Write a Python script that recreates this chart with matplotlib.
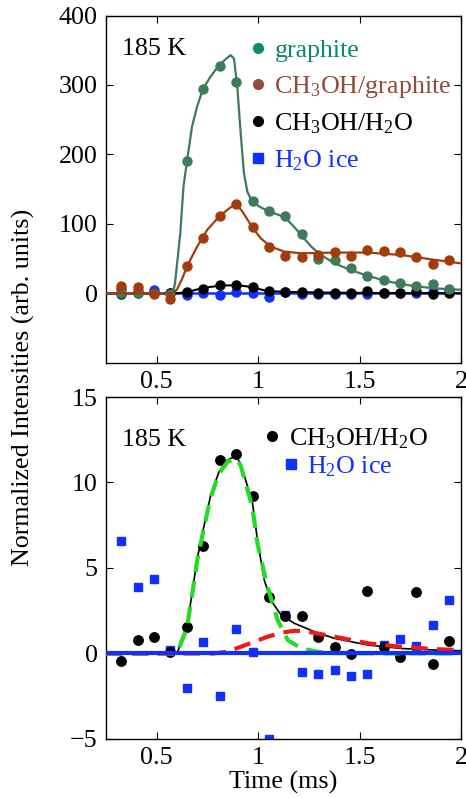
import matplotlib
matplotlib.use("Agg")
import matplotlib.pyplot as plt
from matplotlib.lines import Line2D

plt.rcParams['font.family'] = ['Liberation Serif', 'DejaVu Serif']
plt.rcParams['mathtext.fontset'] = 'custom'
plt.rcParams['mathtext.rm'] = 'Liberation Serif'
plt.rcParams['mathtext.it'] = 'Liberation Serif:italic'

# ---------------- data ----------------
t = [0.326, 0.409, 0.487, 0.566, 0.649, 0.728, 0.810, 0.892, 0.973, 1.055, 1.134,
     1.214, 1.296, 1.377, 1.457, 1.538, 1.618, 1.700, 1.780, 1.861, 1.942]

graphite = [1, 1, 0, -1, 190, 294, 328, 305, 133, 119, 112, 85, 49, 48, 37, 25,
            19, 15, 10, 13, 6]
ch3oh_graphite = [10.6, 8.6, -1.4, -8, 39, 79, 112, 128, 95, 67, 53, 52, 55, 60,
                  54, 63, 61, 60, 52, 42, 48]
ch3oh_h2o = [-0.43, 0.78, 0.98, 0.1, 1.56, 6.29, 11.33, 11.64, 9.22, 3.32, 2.2,
             2.2, 0.98, 0.39, -0.06, 3.65, 0.4, -0.2, 3.57, -0.63, 0.7]
h2o_ice = [6.58, 3.9, 4.34, 0.23, -2.03, 0.68, -2.48, 1.43, 0.08, -5.0, 2.25,
           -1.09, -1.21, -0.98, -1.29, -1.19, 0.49, 0.82, 0.45, 1.68, 3.14]

# fitted curves
fit_g_t = [0.25, 0.58, 0.59, 0.616, 0.632, 0.649, 0.674, 0.699, 0.728, 0.765, 0.806,
           0.839, 0.864, 0.881, 0.897, 0.914, 0.930, 0.947, 0.969, 1.005, 1.051,
           1.129, 1.17, 1.209, 1.262, 1.311, 1.377, 1.46, 1.543, 1.626, 1.709,
           1.79, 1.874, 2.0]
fit_g_y = [0, 0, 14, 86, 154, 190, 240, 269, 294, 312, 328, 337, 343, 338, 298,
           230, 173, 146, 133, 125, 118, 110, 98, 85, 67, 55, 43, 33, 25, 18, 13,
           9.6, 7, 5]

fit_b_t = [0.25, 0.575, 0.599, 0.624, 0.649, 0.674, 0.699, 0.748, 0.806, 0.856,
           0.889, 0.922, 0.969, 1.013, 1.063, 1.129, 1.212, 1.377, 1.543, 1.709,
           1.874, 2.0]
fit_b_y = [0, 0, 5, 20, 38, 53, 67, 91, 110, 122, 129, 118, 96, 79, 67, 60, 57.6,
           58.6, 58.6, 55, 48, 43]

fit_tot_t = [0.25, 0.60, 0.624, 0.649, 0.674, 0.699, 0.732, 0.765, 0.806, 0.848,
             0.889, 0.914, 0.947, 0.972, 0.997, 1.03, 1.063, 1.113, 1.179, 1.278,
             1.377, 1.543, 1.709, 1.874, 2.0]
fit_tot_y = [0, 0, 0.78, 1.56, 3.5, 5.5, 7.4, 9.2, 10.6, 11.3, 11.56, 11.1, 9.8,
             8.8, 6.6, 4.3, 3.1, 2.25, 1.76, 1.27, 0.88, 0.49, 0.29, 0.2, 0.16]

fit_fast_t = [0.25, 0.60, 0.624, 0.649, 0.674, 0.699, 0.732, 0.765, 0.806, 0.848,
              0.889, 0.914, 0.947, 0.972, 0.997, 1.046, 1.096, 1.146, 1.212, 1.295,
              1.377, 1.6, 2.0]
fit_fast_y = [0, 0, 0.75, 1.5, 3.4, 5.4, 7.3, 9.1, 10.5, 11.2, 11.4, 11.0, 9.6,
              8.5, 6.4, 3.9, 1.95, 0.78, 0.3, 0.1, 0.02, 0, 0]

fit_slow_t = [0.25, 0.78, 0.848, 0.914, 0.98, 1.046, 1.113, 1.179, 1.245, 1.377,
              1.543, 1.709, 1.874, 2.0]
fit_slow_y = [0, 0, 0.1, 0.39, 0.68, 0.98, 1.21, 1.33, 1.27, 0.98, 0.59, 0.39,
              0.25, 0.2]

baseline_t = [0.25, 2.0]
baseline_y = [0, 0]

# ---------------- style ----------------
FS = 18.7
C_G = '#3f7a5c'
C_B = '#a33c0c'
C_BLUE = '#1030ff'
C_LG = '#0a8a6e'
C_LB = '#934c3a'

fig = plt.figure(figsize=(4.66, 7.98), dpi=100)
ax1 = fig.add_axes([0.2275, 0.5455, 0.7618, 0.4350])
ax2 = fig.add_axes([0.2275, 0.0740, 0.7618, 0.4285])

for ax in (ax1, ax2):
    ax.set_xlim(0.25, 2.0)
    ax.set_xticks([0.5, 1, 1.5, 2])
    ax.set_xticklabels(['0.5', '1', '1.5', '2'])
    ax.tick_params(direction='in', top=True, right=True, labelsize=FS,
                   length=5, width=0.8, pad=6)
    for s in ax.spines.values():
        s.set_linewidth(1.0)

# top panel
ax1.set_ylim(-100, 400)
ax1.set_yticks([0, 100, 200, 300, 400])
ax1.plot(baseline_t, baseline_y, color=C_BLUE, lw=1.8, zorder=2)
ax1.plot(t, h2o_ice, 'o', color=C_BLUE, ms=6.5, zorder=2)
ax1.plot(fit_tot_t, fit_tot_y, color='black', lw=1.5, zorder=3)
ax1.plot(t, ch3oh_h2o, 'o', color='black', ms=6.5, zorder=3)
ax1.plot(fit_g_t, fit_g_y, color=C_G, lw=1.6, zorder=4)
ax1.plot(t, graphite, 'o', color=C_G, ms=6.5, zorder=4)
ax1.plot(fit_b_t, fit_b_y, color=C_B, lw=1.6, zorder=5)
ax1.plot(t, ch3oh_graphite, 'o', color=C_B, ms=6.5, zorder=5)

ax1.text(0.045, 0.905, '185 K', transform=ax1.transAxes, fontsize=FS,
         va='center', ha='left')
h1 = [Line2D([], [], ls='none', marker='o', color=C_LG, ms=7),
      Line2D([], [], ls='none', marker='o', color=C_LB, ms=7),
      Line2D([], [], ls='none', marker='o', color='black', ms=7),
      Line2D([], [], ls='none', marker='s', color=C_BLUE, ms=6.5)]
l1 = ['graphite', r'CH$_3$OH/graphite', r'CH$_3$OH/H$_2$O', r'H$_2$O ice']
ax1.legend(h1, l1, loc='upper left', bbox_to_anchor=(0.405, 0.934),
           frameon=False, fontsize=FS, handlelength=0.6, handletextpad=0.35,
           borderpad=0, borderaxespad=0, labelspacing=0.46,
           labelcolor=[C_LG, C_LB, 'black', C_BLUE])

# bottom panel
ax2.set_ylim(-5, 15)
ax2.set_yticks([-5, 0, 5, 10, 15])
ax2.plot(t, h2o_ice, 's', color=C_BLUE, ms=6.3, zorder=2)
ax2.plot(t, ch3oh_h2o, 'o', color='black', ms=6.8, zorder=3)
ax2.plot(fit_tot_t, fit_tot_y, color='black', lw=1.2, zorder=4)
ax2.plot(fit_fast_t, fit_fast_y, color='#22dd22', lw=3, ls=(0, (4.0, 2.2)), zorder=5)
ax2.plot(fit_slow_t, fit_slow_y, color='#ee1a1a', lw=3, ls=(0, (4.0, 2.2)), zorder=5)
ax2.plot(baseline_t, baseline_y, color=C_BLUE, lw=3, zorder=6)

ax2.text(0.045, 0.875, '185 K', transform=ax2.transAxes, fontsize=FS,
         va='center', ha='left')
leg_a = ax2.legend([Line2D([], [], ls='none', marker='o', color='black', ms=7)],
                   [r'CH$_3$OH/H$_2$O'], loc='upper left',
                   bbox_to_anchor=(0.447, 0.914), frameon=False, fontsize=FS,
                   handlelength=0.6, handletextpad=0.35, borderpad=0,
                   borderaxespad=0, labelcolor=['black'])
ax2.add_artist(leg_a)
ax2.legend([Line2D([], [], ls='none', marker='s', color=C_BLUE, ms=6.5)],
           [r'H$_2$O ice'], loc='upper left',
           bbox_to_anchor=(0.498, 0.832), frameon=False, fontsize=FS,
           handlelength=0.6, handletextpad=0.35, borderpad=0,
           borderaxespad=0, labelcolor=[C_BLUE])
ax2.set_xlabel('Time (ms)', fontsize=FS, labelpad=1)

fig.text(0.0505, 0.514, 'Normalized Intensities (arb. units)', rotation=90,
         fontsize=FS, ha='center', va='center')

fig.savefig('out.png', dpi=100)
